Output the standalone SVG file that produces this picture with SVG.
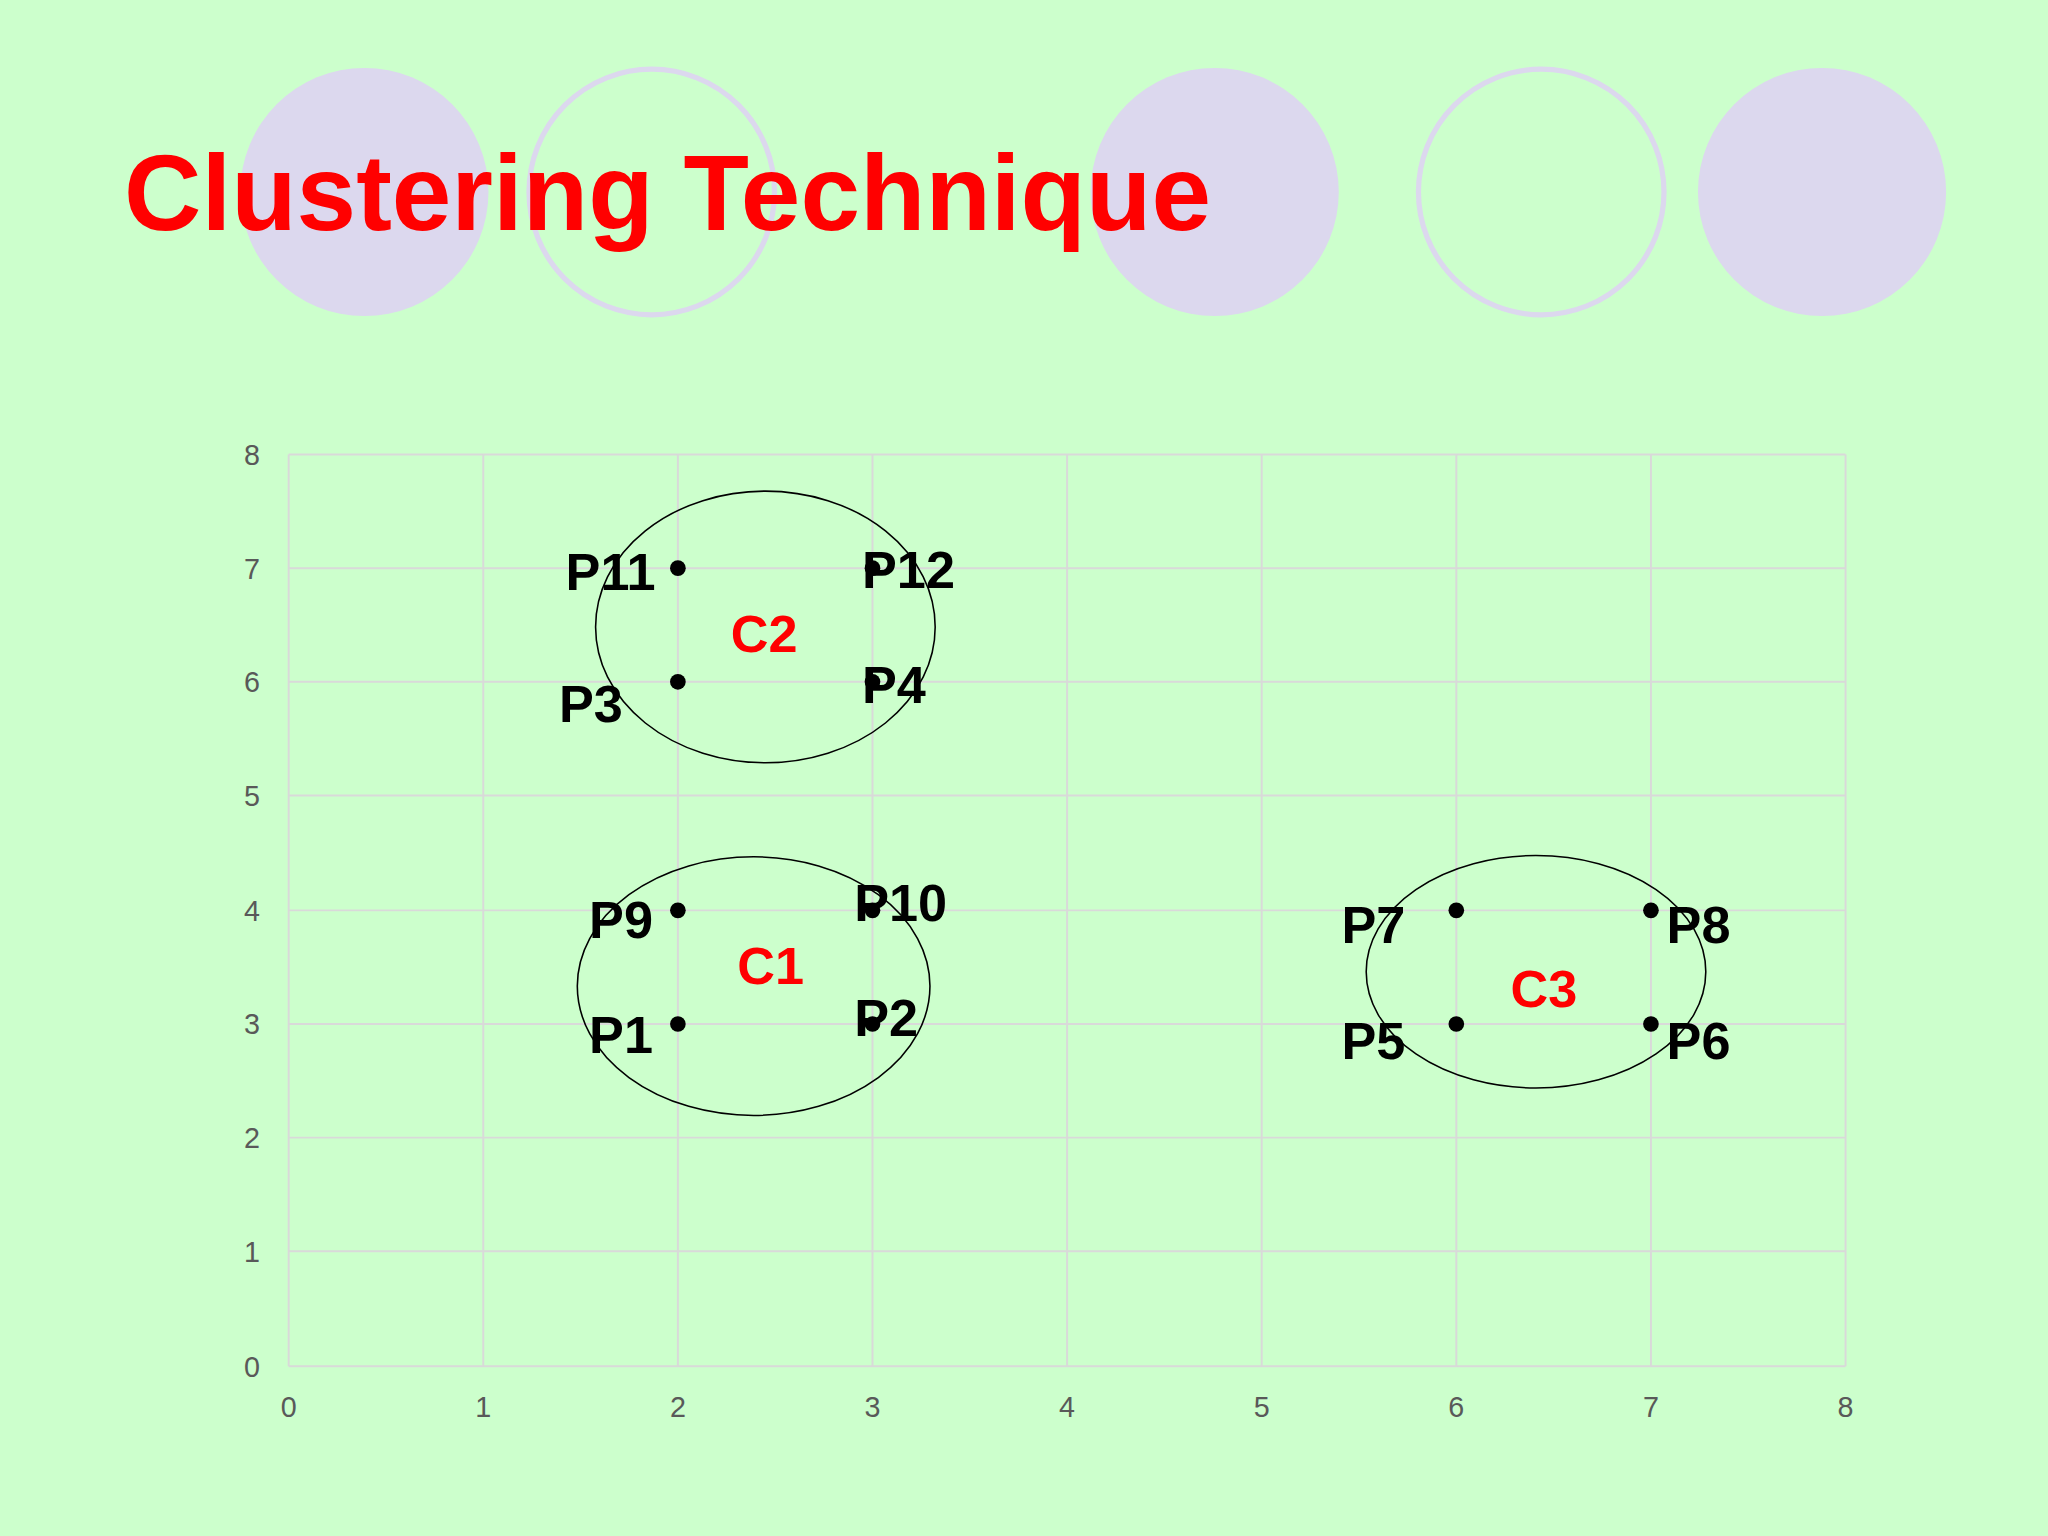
<svg xmlns="http://www.w3.org/2000/svg" width="2048" height="1536" viewBox="0 0 2048 1536">
<style>
.grid{stroke:#d9d9d9;stroke-width:1.5}
.tick{font-family:"Liberation Sans",Arial,sans-serif;font-size:22px;fill:#595959}
.pl{font-family:"Liberation Sans",Arial,sans-serif;font-size:40px;font-weight:bold;fill:#000}
.cl{font-family:"Liberation Sans",Arial,sans-serif;font-size:40px;font-weight:bold;fill:#ff0000;text-anchor:middle}
.dot{fill:#000}
.ell{fill:none;stroke:#000;stroke-width:1.2}
.cf{fill:#dcd8ee}
.co{fill:none;stroke:#dcd8ee;stroke-width:4}
</style>
<rect width="2048" height="1536" fill="#ccffcc"/>
<g transform="scale(1.306122)">
<g id="decor">
<circle class="cf" cx="279" cy="147" r="95"/>
<circle class="co" cx="499" cy="147" r="94"/>
<circle class="cf" cx="930" cy="147" r="95"/>
<circle class="co" cx="1180" cy="147" r="94"/>
<circle class="cf" cx="1395" cy="147" r="95"/>
</g>
<text id="title" x="95" y="176" font-family="Liberation Sans,Arial,sans-serif" font-size="82" font-weight="bold" fill="#ff0000">Clustering Technique</text>
<g id="grid">
<line class="grid" x1="221" y1="348" x2="1413" y2="348"/>
<line class="grid" x1="221" y1="435" x2="1413" y2="435"/>
<line class="grid" x1="221" y1="522" x2="1413" y2="522"/>
<line class="grid" x1="221" y1="609" x2="1413" y2="609"/>
<line class="grid" x1="221" y1="697" x2="1413" y2="697"/>
<line class="grid" x1="221" y1="784" x2="1413" y2="784"/>
<line class="grid" x1="221" y1="871" x2="1413" y2="871"/>
<line class="grid" x1="221" y1="958" x2="1413" y2="958"/>
<line class="grid" x1="221" y1="1046" x2="1413" y2="1046"/>
<line class="grid" x1="221" y1="348" x2="221" y2="1046"/>
<line class="grid" x1="370" y1="348" x2="370" y2="1046"/>
<line class="grid" x1="519" y1="348" x2="519" y2="1046"/>
<line class="grid" x1="668" y1="348" x2="668" y2="1046"/>
<line class="grid" x1="817" y1="348" x2="817" y2="1046"/>
<line class="grid" x1="966" y1="348" x2="966" y2="1046"/>
<line class="grid" x1="1115" y1="348" x2="1115" y2="1046"/>
<line class="grid" x1="1264" y1="348" x2="1264" y2="1046"/>
<line class="grid" x1="1413" y1="348" x2="1413" y2="1046"/>
</g>
<g id="ticks" class="tick">
<text x="199" y="356" text-anchor="end">8</text>
<text x="199" y="443" text-anchor="end">7</text>
<text x="199" y="530" text-anchor="end">6</text>
<text x="199" y="617" text-anchor="end">5</text>
<text x="199" y="705" text-anchor="end">4</text>
<text x="199" y="792" text-anchor="end">3</text>
<text x="199" y="879" text-anchor="end">2</text>
<text x="199" y="966" text-anchor="end">1</text>
<text x="199" y="1054" text-anchor="end">0</text>
<g text-anchor="middle">
<text x="221" y="1085">0</text><text x="370" y="1085">1</text><text x="519" y="1085">2</text>
<text x="668" y="1085">3</text><text x="817" y="1085">4</text><text x="966" y="1085">5</text>
<text x="1115" y="1085">6</text><text x="1264" y="1085">7</text><text x="1413" y="1085">8</text>
</g>
</g>
<g id="C2"><ellipse class="ell" cx="586" cy="480" rx="130" ry="104"/><text class="cl" x="585" y="499">C2</text></g>
<g id="C1"><ellipse class="ell" cx="577" cy="755" rx="135" ry="99"/><text class="cl" x="590" y="753">C1</text></g>
<g id="C3"><ellipse class="ell" cx="1176" cy="744" rx="130" ry="89"/><text class="cl" x="1182" y="771">C3</text></g>
<g id="points">
<g id="P1"><circle class="dot" cx="519" cy="784" r="6"/><text class="pl" x="451" y="806">P1</text></g>
<g id="P2"><circle class="dot" cx="668" cy="784" r="6"/><text class="pl" x="654" y="793">P2</text></g>
<g id="P3"><circle class="dot" cx="519" cy="522" r="6"/><text class="pl" x="428" y="553">P3</text></g>
<g id="P4"><circle class="dot" cx="668" cy="522" r="6"/><text class="pl" x="660" y="538">P4</text></g>
<g id="P5"><circle class="dot" cx="1115" cy="784" r="6"/><text class="pl" x="1027" y="811">P5</text></g>
<g id="P6"><circle class="dot" cx="1264" cy="784" r="6"/><text class="pl" x="1276" y="811">P6</text></g>
<g id="P7"><circle class="dot" cx="1115" cy="697" r="6"/><text class="pl" x="1027" y="722">P7</text></g>
<g id="P8"><circle class="dot" cx="1264" cy="697" r="6"/><text class="pl" x="1276" y="722">P8</text></g>
<g id="P9"><circle class="dot" cx="519" cy="697" r="6"/><text class="pl" x="451" y="718">P9</text></g>
<g id="P10"><circle class="dot" cx="668" cy="697" r="6"/><text class="pl" x="654" y="705">P10</text></g>
<g id="P11"><circle class="dot" cx="519" cy="435" r="6"/><text class="pl" x="433" y="452">P11</text></g>
<g id="P12"><circle class="dot" cx="668" cy="435" r="6"/><text class="pl" x="660" y="450">P12</text></g>
</g>
</g>
</svg>
